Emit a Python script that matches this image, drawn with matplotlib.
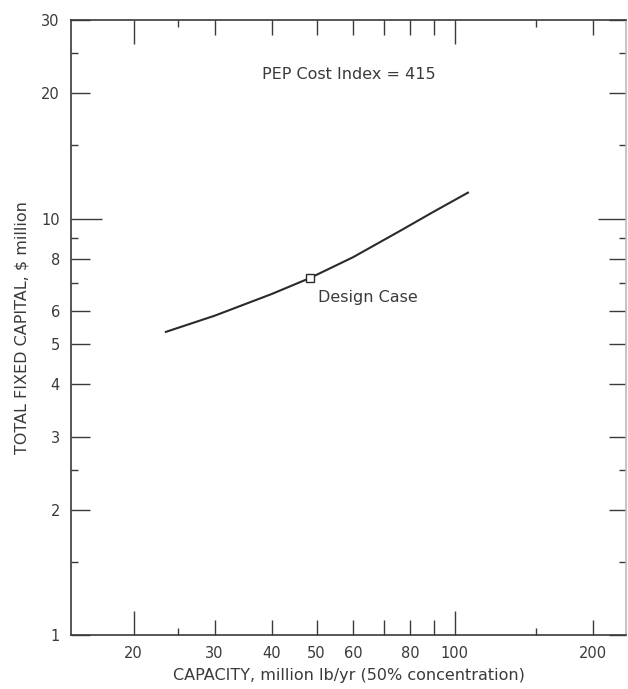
import numpy as np
import matplotlib.pyplot as plt
from matplotlib.ticker import FixedLocator, FixedFormatter, NullFormatter

# ---------- data ----------
capacity = [23.5, 30, 40, 48.3, 60, 76, 90, 106.8]      # million lb/yr
capital = [5.35, 5.85, 6.6, 7.2, 8.08, 9.35, 10.4, 11.55]  # $ million
design_capacity = 48.3
design_capital = 7.2

x_major = [20, 30, 40, 50, 60, 70, 80, 90, 100, 200]
x_labels = ['20', '30', '40', '50', '60', '', '80', '', '100', '200']
x_minor = [25, 150]
y_major = [1, 2, 3, 4, 5, 6, 8, 10, 20, 30]
y_labels = ['1', '2', '3', '4', '5', '6', '8', '10', '20', '30']
y_minor = [1.5, 2.5, 7, 9, 15, 25]

ink = '#3a3a3a'
plt.rcParams['font.family'] = ['DejaVu Sans']

fig = plt.figure(figsize=(6.28, 6.89), dpi=100)
ax = fig.add_axes([0.113, 0.078, 0.884, 0.893])

ax.plot(capacity, capital, color='#2a2a2a', lw=1.5)
ax.plot([design_capacity], [design_capital], marker='s', ms=6, mfc='white',
        mec='#2a2a2a', mew=1.0, ls='none')

ax.set_xscale('log')
ax.set_yscale('log')
ax.set_xlim(14.6, 236)
ax.set_ylim(1, 30)

ax.xaxis.set_major_locator(FixedLocator(x_major))
ax.xaxis.set_major_formatter(FixedFormatter(x_labels))
ax.xaxis.set_minor_locator(FixedLocator(x_minor))
ax.xaxis.set_minor_formatter(NullFormatter())
ax.yaxis.set_major_locator(FixedLocator(y_major))
ax.yaxis.set_major_formatter(FixedFormatter(y_labels))
ax.yaxis.set_minor_locator(FixedLocator(y_minor))
ax.yaxis.set_minor_formatter(NullFormatter())

ax.tick_params(which='both', direction='in', top=True, right=True,
               color=ink, labelcolor=ink, labelsize=10.5, width=1.0)
ax.tick_params(which='major', length=11, pad=8)
ax.tick_params(which='minor', length=5)

# longer ticks at the decade marks
for val, tk in zip(x_major, ax.xaxis.get_major_ticks()):
    if val in (20, 100):
        tk.tick1line.set_markersize(17)
        tk.tick2line.set_markersize(17)
for val, tk in zip(y_major, ax.yaxis.get_major_ticks()):
    if val == 10:
        tk.tick1line.set_markersize(22)
        tk.tick2line.set_markersize(20)
    else:
        tk.tick1line.set_markersize(14)
        tk.tick2line.set_markersize(12)

for s in ax.spines.values():
    s.set_color(ink)
    s.set_linewidth(1.2)
ax.spines['right'].set_color('#bbbbbb')

ax.text(0.5, 0.912, 'PEP Cost Index = 415', transform=ax.transAxes,
        ha='center', va='center', fontsize=11.5, color=ink)
ax.annotate('Design Case', (design_capacity, design_capital), xytext=(6, -14),
            textcoords='offset points', ha='left', va='center', fontsize=11.5,
            color=ink)

ax.set_xlabel('CAPACITY, million lb/yr (50% concentration)', fontsize=11.5,
              color=ink, labelpad=5)
ax.set_ylabel('TOTAL FIXED CAPITAL, $ million', fontsize=11.5, color=ink,
              labelpad=8)

fig.savefig('out.png', dpi=100)
